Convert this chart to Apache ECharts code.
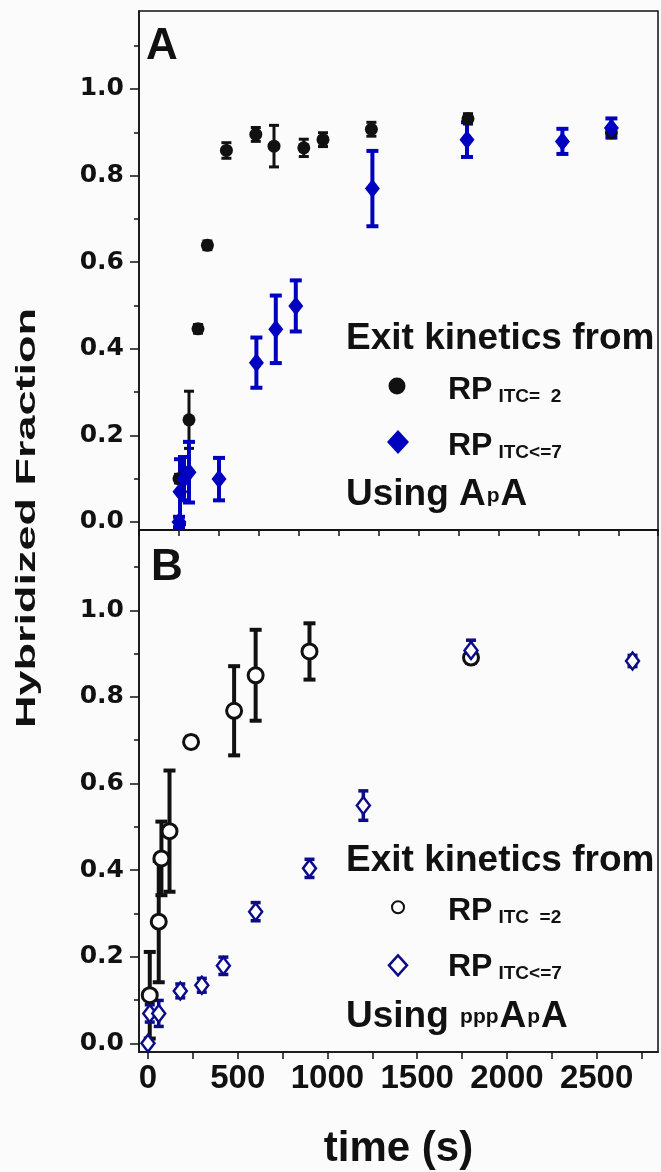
<!DOCTYPE html>
<html>
<head>
<meta charset="utf-8">
<script src="https://cdn.jsdelivr.net/npm/echarts@6/dist/echarts.min.js"></script>
<style>
html, body { margin: 0; padding: 0; background: #fbfbfb; }
#chart { width: 661px; height: 1172px; }
</style>
</head>
<body>
<div id="chart"></div>
<script>
// panel A (using ApA): time on the panel's own axis, fraction, error
var aBlackTime = [0, 50, 95, 142, 237, 384, 475, 624, 720, 962, 1445, 2162]
var aBlackFrac = [0.10, 0.236, 0.446, 0.639, 0.858, 0.895, 0.868, 0.864, 0.883, 0.907, 0.931, 0.899]
var aBlackErr = [0.01, 0.066, 0.01, 0.01, 0.018, 0.016, 0.048, 0.02, 0.016, 0.016, 0.012, 0.012]

var aBlueTime = [0, 5, 25, 50, 200, 387, 484, 584, 967, 1440, 1917, 2162]
var aBlueFrac = [0.0, 0.07, 0.10, 0.115, 0.099, 0.368, 0.445, 0.499, 0.770, 0.883, 0.879, 0.910]
var aBlueErr = [0.012, 0.075, 0.05, 0.07, 0.049, 0.058, 0.078, 0.059, 0.087, 0.04, 0.029, 0.022]

// panel B (using pppApA): time (s), fraction, error
var bBlackTime = [10, 60, 75, 120, 240, 480, 600, 900, 1800]
var bBlackFrac = [0.111, 0.281, 0.427, 0.490, 0.696, 0.768, 0.850, 0.905, 0.891]
var bBlackErr = [0.1, 0.14, 0.085, 0.14, 0.012, 0.103, 0.105, 0.065, 0.012]

var bBlueTime = [0, 10, 60, 180, 300, 420, 600, 900, 1200, 1800, 2700]
var bBlueFrac = [0.0, 0.069, 0.069, 0.121, 0.134, 0.179, 0.304, 0.404, 0.549, 0.907, 0.883]
var bBlueErr = [0.005, 0.02, 0.03, 0.016, 0.016, 0.02, 0.021, 0.021, 0.034, 0.024, 0.013]

// tick values
var timeLabels = [0, 500, 1000, 1500, 2000, 2500]
var timeTicks = [0, 250, 500, 750, 1000, 1250, 1500, 1750, 2000, 2250, 2500, 2750]
var fracLabels = [0, 0.2, 0.4, 0.6, 0.8, 1.0]
var fracMinor = [0.1, 0.3, 0.5, 0.7, 0.9, 1.1]

var BLUE_A = '#0000c0'
var BLUE_B = '#0c0c88'
var INK = '#111'

function zip (t, y, e) {
  return t.map(function (v, i) { return e ? [v, y[i], e[i]] : [v, y[i]] })
}

function errBars (color, lw, cap) {
  return function (params, api) {
    var x = api.value(0)
    var y = api.value(1)
    var e = api.value(2)
    var top = api.coord([x, y + e])
    var bot = api.coord([x, y - e])
    var style = { stroke: color, lineWidth: lw }
    return {
      type: 'group',
      children: [
        { type: 'line', shape: { x1: top[0], y1: top[1], x2: bot[0], y2: bot[1] }, style: style },
        { type: 'line', shape: { x1: top[0] - cap, y1: top[1], x2: top[0] + cap, y2: top[1] }, style: style },
        { type: 'line', shape: { x1: bot[0] - cap, y1: bot[1], x2: bot[0] + cap, y2: bot[1] }, style: style }
      ]
    }
  }
}

function fracAxis (grid, min, max, major) {
  return {
    type: 'value',
    gridIndex: grid,
    position: 'left',
    min: min,
    max: max,
    splitLine: { show: false },
    axisLine: { show: major, onZero: false, lineStyle: { color: INK, width: 1.5 } },
    axisTick: {
      show: true,
      length: major ? 9 : 5,
      customValues: major ? fracLabels : fracMinor,
      lineStyle: { color: INK, width: 1.5 }
    },
    axisLabel: {
      show: major,
      customValues: fracLabels,
      margin: 15,
      formatter: function (v) { return v.toFixed(1) },
      color: INK,
      fontFamily: 'DejaVu Sans',
      fontWeight: 'bold',
      fontSize: 25
    }
  }
}

var sub = { fontFamily: 'Liberation Sans', fontWeight: 'bold', fontSize: 19, fill: INK, verticalAlign: 'bottom', padding: [0, 0, 0, 6] }
var big = { fontFamily: 'Liberation Sans', fontWeight: 'bold', fontSize: 32, fill: INK }
var txt = { fontFamily: 'Liberation Sans', fontWeight: 'bold', fontSize: 37, fill: INK }
var small = { fontFamily: 'Liberation Sans', fontWeight: 'bold', fontSize: 21, fill: INK, verticalAlign: 'bottom', padding: [0, 1, 7, 1] }

function legend (dy, open) {
  var items = [
    { type: 'text', x: 346, y: 339 + dy, style: { text: 'Exit kinetics from', font: 'bold 37px "Liberation Sans"', fill: INK, align: 'left', verticalAlign: 'middle' } },
    {
      type: 'text', x: 448, y: 390 + dy,
      style: { text: '{rp|RP}{s|' + (open ? 'ITC  =2' : 'ITC=  2') + '}', rich: { rp: big, s: sub }, align: 'left', verticalAlign: 'middle' }
    },
    {
      type: 'text', x: 448, y: 446 + dy,
      style: { text: '{rp|RP}{s|ITC<=7}', rich: { rp: big, s: sub }, align: 'left', verticalAlign: 'middle' }
    },
    {
      type: 'text', x: 346, y: 495 + dy,
      style: {
        text: open ? '{t|Using }{p|ppp}{t|A}{p|p}{t|A}' : '{t|Using A}{p|p}{t|A}',
        rich: { t: txt, p: small }, align: 'left', verticalAlign: 'middle'
      }
    }
  ]
  if (open) {
    items.push({ type: 'circle', shape: { cx: 398, cy: 386 + dy, r: 6 }, style: { fill: '#fff', stroke: INK, lineWidth: 2 } })
    items.push({ type: 'polygon', shape: { points: [[398, 434 + dy], [407, 444 + dy], [398, 454 + dy], [389, 444 + dy]] }, style: { fill: '#fff', stroke: BLUE_B, lineWidth: 2.5 } })
  } else {
    items.push({ type: 'circle', shape: { cx: 397, cy: 386 + dy, r: 8.5 }, style: { fill: INK } })
    items.push({ type: 'polygon', shape: { points: [[398, 430 + dy], [409, 442 + dy], [398, 454 + dy], [387, 442 + dy]] }, style: { fill: BLUE_A } })
  }
  return items
}

var chart = echarts.init(document.getElementById('chart'))

chart.setOption({
  backgroundColor: '#fbfbfb',
  animation: false,
  grid: [
    { left: 139, top: 11, width: 519, height: 519, show: true, borderColor: INK, borderWidth: 1.5, backgroundColor: 'transparent', outerBoundsMode: 'none' },
    { left: 139, top: 530, width: 519, height: 522, show: true, borderColor: INK, borderWidth: 1.5, backgroundColor: 'transparent', outerBoundsMode: 'none' }
  ],
  xAxis: [
    {
      type: 'value',
      gridIndex: 0,
      min: -200,
      max: 2395,
      interval: 200,
      splitLine: { show: false },
      axisLine: { onZero: false, lineStyle: { color: INK, width: 1.5 } },
      axisTick: { length: 6, lineStyle: { color: INK, width: 1.5 } },
      axisLabel: { show: false }
    },
    {
      type: 'value',
      gridIndex: 1,
      min: -50,
      max: 2842,
      splitLine: { show: false },
      axisLine: { onZero: false, lineStyle: { color: INK, width: 1.5 } },
      axisTick: { length: 7, customValues: timeTicks, lineStyle: { color: INK, width: 1.5 } },
      axisLabel: {
        customValues: timeLabels,
        formatter: function (v) { return String(v) },
        margin: 10,
        color: INK,
        fontFamily: 'Liberation Sans',
        fontWeight: 'bold',
        fontSize: 33
      },
      name: 'time (s)',
      nameLocation: 'middle',
      nameGap: 76,
      nameTextStyle: { color: INK, fontFamily: 'Liberation Sans', fontWeight: 'bold', fontSize: 42 }
    }
  ],
  yAxis: [
    fracAxis(0, -0.0185, 1.1801, true),
    fracAxis(0, -0.0185, 1.1801, false),
    fracAxis(1, -0.0201, 1.1855, true),
    fracAxis(1, -0.0201, 1.1855, false)
  ],
  series: [
    { type: 'custom', xAxisIndex: 0, yAxisIndex: 0, renderItem: errBars(INK, 3, 5), data: zip(aBlackTime, aBlackFrac, aBlackErr) },
    { type: 'scatter', xAxisIndex: 0, yAxisIndex: 0, symbol: 'circle', symbolSize: 13, itemStyle: { color: INK, opacity: 1 }, data: zip(aBlackTime, aBlackFrac) },
    { type: 'custom', xAxisIndex: 0, yAxisIndex: 0, renderItem: errBars(BLUE_A, 4, 6), data: zip(aBlueTime, aBlueFrac, aBlueErr) },
    { type: 'scatter', xAxisIndex: 0, yAxisIndex: 0, symbol: 'diamond', symbolSize: [15, 19], itemStyle: { color: BLUE_A, opacity: 1 }, data: zip(aBlueTime, aBlueFrac) },

    { type: 'custom', xAxisIndex: 1, yAxisIndex: 2, renderItem: errBars(INK, 4, 6), data: zip(bBlackTime, bBlackFrac, bBlackErr) },
    { type: 'scatter', xAxisIndex: 1, yAxisIndex: 2, symbol: 'circle', symbolSize: 15, itemStyle: { color: '#fff', borderColor: INK, borderWidth: 3, opacity: 1 }, data: zip(bBlackTime, bBlackFrac) },
    { type: 'custom', xAxisIndex: 1, yAxisIndex: 2, renderItem: errBars(BLUE_B, 3.5, 5), data: zip(bBlueTime, bBlueFrac, bBlueErr) },
    { type: 'scatter', xAxisIndex: 1, yAxisIndex: 2, symbol: 'diamond', symbolSize: [13, 17], itemStyle: { color: '#fff', borderColor: BLUE_B, borderWidth: 2.5, opacity: 1 }, data: zip(bBlueTime, bBlueFrac) }
  ],
  graphic: [
    { type: 'text', x: 146, y: 47, style: { text: 'A', font: 'bold 44px "Liberation Sans"', fill: INK, align: 'left', verticalAlign: 'middle' } },
    { type: 'text', x: 151, y: 568, style: { text: 'B', font: 'bold 44px "Liberation Sans"', fill: INK, align: 'left', verticalAlign: 'middle' } },
    {
      type: 'text', x: 28, y: 518, rotation: Math.PI / 2, scaleY: 0.6,
      style: { text: 'Hybridized Fraction', font: 'bold 45px "Liberation Sans"', fill: INK, align: 'center', verticalAlign: 'middle' }
    }
  ].concat(legend(0, false), legend(521.3, true))
})
</script>
</body>
</html>
